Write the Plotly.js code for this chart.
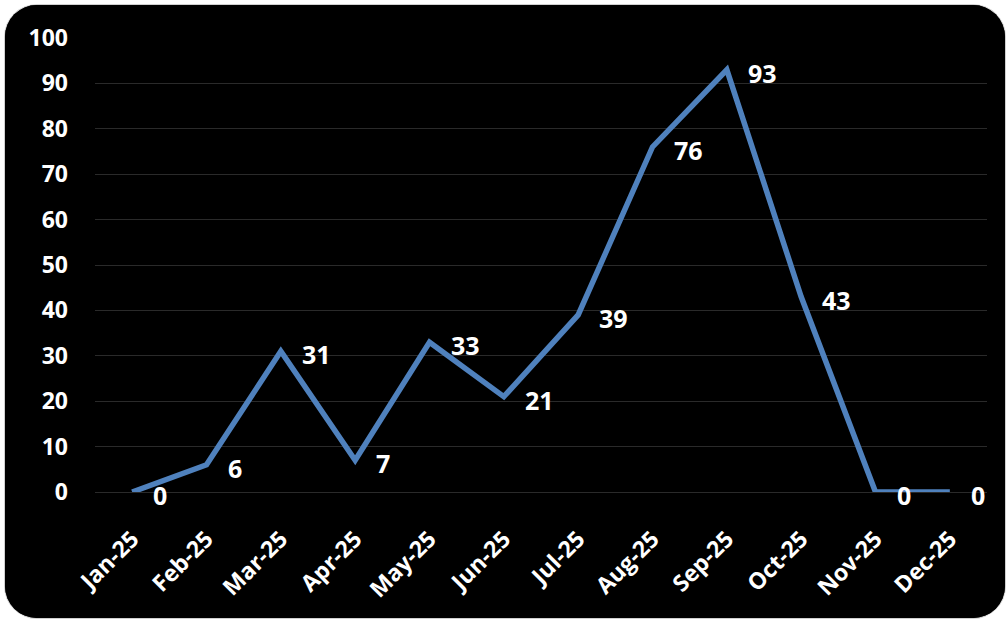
<!DOCTYPE html>
<html>
<head>
<meta charset="utf-8">
<script src="https://cdn.plot.ly/plotly-3.0.1.min.js"></script>
<style>
  html, body { margin: 0; padding: 0; background: #ffffff; width: 1006px; height: 619px; overflow: hidden; }
  #wrap { position: absolute; left: 5px; top: 5px; width: 1000px; height: 613px; border-radius: 32px; overflow: hidden; background: #000; box-shadow: 0 0 0 1px #d0d0d0; }
  #chart { width: 1000px; height: 613px; }
</style>
</head>
<body>
<div id="wrap"><div id="chart"></div></div>
<script>
const months = ["Jan-25","Feb-25","Mar-25","Apr-25","May-25","Jun-25","Jul-25","Aug-25","Sep-25","Oct-25","Nov-25","Dec-25"];
const values = [0, 6, 31, 7, 33, 21, 39, 76, 93, 43, 0, 0];
const yTicks = [0,10,20,30,40,50,60,70,80,90,100];

const FONT = "'Open Sans', 'Liberation Sans', sans-serif";

const trace = {
  x: months,
  y: values,
  type: 'scatter',
  mode: 'lines',
  line: { color: '#4F81BD', width: 5.5 },
  hoverinfo: 'skip'
};

const annotations = months.map((m, i) => ({
  x: m, y: values[i], xref: 'x', yref: 'y',
  text: String(values[i]),
  showarrow: false,
  xanchor: 'left', yanchor: 'middle',
  xshift: 19, yshift: -3,
  font: { family: FONT, size: 25, color: '#ffffff', weight: 'bold' }
}));

const layout = {
  width: 1000, height: 613,
  margin: { l: 90, r: 18, t: 33, b: 126 },
  paper_bgcolor: '#000000',
  plot_bgcolor: '#000000',
  showlegend: false,
  xaxis: {
    type: 'category',
    range: [-0.5, 11.5],
    showgrid: false, zeroline: false, showline: false,
    ticks: '', tickangle: -45,
    ticklabelstandoff: 28,
    tickfont: { family: FONT, size: 23, color: '#ffffff', weight: 'bold' },
    fixedrange: true
  },
  yaxis: {
    range: [0, 100],
    tickvals: yTicks,
    ticktext: yTicks.map(String),
    showgrid: true, gridcolor: '#2a2a2a', gridwidth: 1,
    zeroline: true, zerolinecolor: '#2a2a2a', zerolinewidth: 1,
    showline: false, ticks: '',
    ticklabelstandoff: 26,
    tickfont: { family: FONT, size: 23, color: '#ffffff', weight: 'bold' },
    fixedrange: true
  },
  annotations: annotations
};

Plotly.newPlot('chart', [trace], layout, { displayModeBar: false, staticPlot: true });
</script>
</body>
</html>
